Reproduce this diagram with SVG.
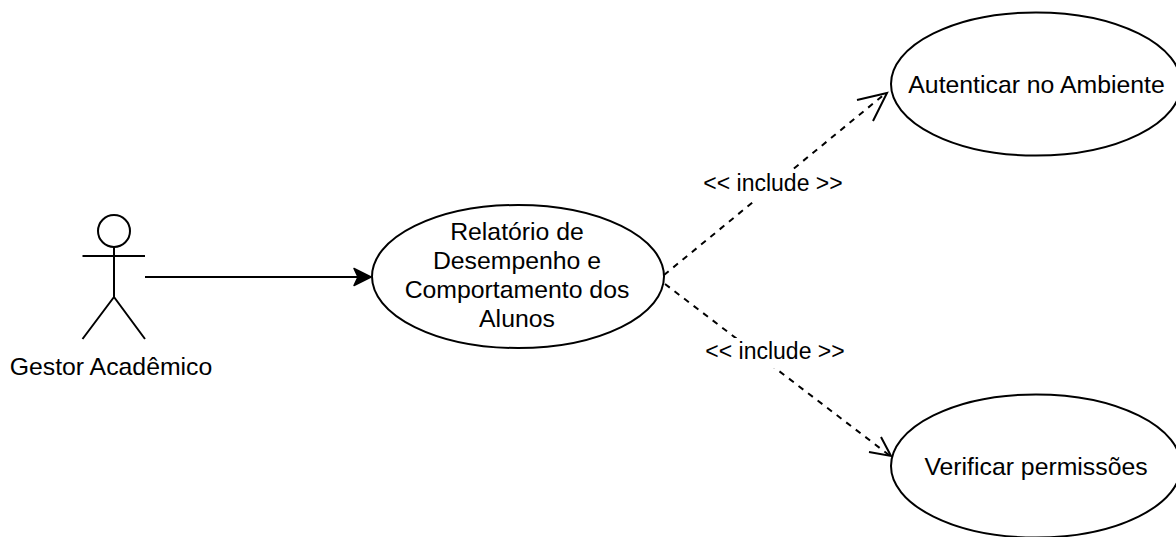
<svg xmlns="http://www.w3.org/2000/svg" width="1176" height="537" viewBox="0 0 1176 537">
<style>
.n{fill:#fff;stroke:#000;stroke-width:2}
.l{fill:none;stroke:#000;stroke-width:2}
.d{fill:none;stroke:#000;stroke-width:2;stroke-dasharray:6 6}
text{font-family:"Liberation Sans",Arial,sans-serif;font-size:24.8px;fill:#000;text-anchor:middle}
text.e{font-size:23px}
</style>
<rect width="1176" height="537" fill="#fff"/>
<g id="connectors">
<path class="l" d="M145 277H360"/>
<path d="M371 277L354 285.500L358 277L354 268.500Z" fill="#000" stroke="#000" stroke-width="1.500" stroke-linejoin="round"/>
<path class="d" d="M664 275L886 93"/>
<path class="l" d="M857 100L887 93L873 121"/>
<path class="d" d="M665 284L889 455"/>
<path class="l" d="M881 437L891 456L869 452"/>
<rect x="703" y="171" width="140" height="30" fill="#fff"/>
<text class="e" x="773" y="191">&lt;&lt; include &gt;&gt;</text>
<rect x="705" y="338" width="140" height="30" fill="#fff"/>
<text class="e" x="775" y="359">&lt;&lt; include &gt;&gt;</text>
</g>
<g id="actor">
<circle class="l" cx="114" cy="231" r="16"/>
<path class="l" d="M114 247V297M82.500 256H145M114 297L82.500 339M114 297L145 339"/>
<text x="111" y="375">Gestor Acadêmico</text>
</g>
<g id="relatorio">
<ellipse class="n" cx="518" cy="276.500" rx="146" ry="71.500"/>
<text x="517" y="240">Relatório de</text>
<text x="517" y="269">Desempenho e</text>
<text x="517" y="298">Comportamento dos</text>
<text x="517" y="327">Alunos</text>
</g>
<g id="autenticar">
<ellipse class="n" cx="1036" cy="84" rx="145" ry="71.500"/>
<text x="1036.500" y="93">Autenticar no Ambiente</text>
</g>
<g id="verificar">
<ellipse class="n" cx="1036" cy="466" rx="145" ry="71.500"/>
<text x="1036" y="475">Verificar permissões</text>
</g>
</svg>
